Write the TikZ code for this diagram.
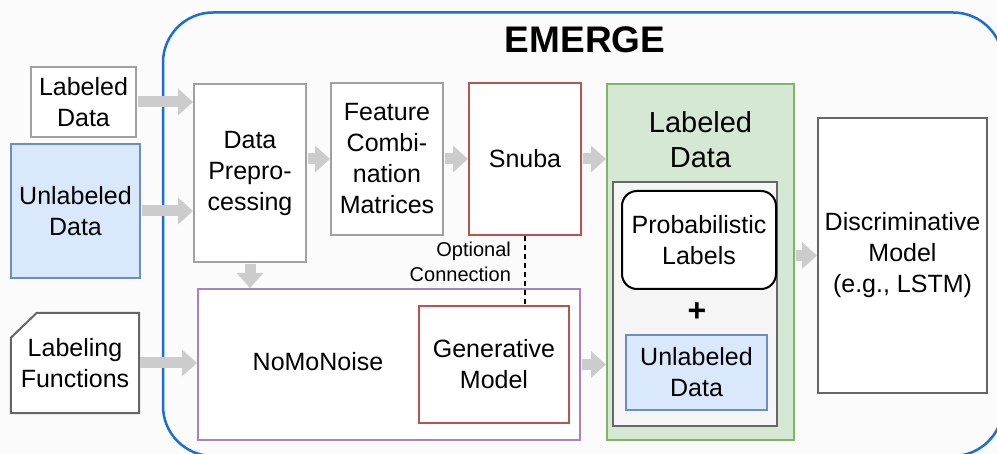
\documentclass[tikz,border=0pt]{standalone}
\usepackage{fontspec}
\setmainfont{Liberation Sans}
\usepackage{xcolor}
\usepackage{tikz}
\usetikzlibrary{arrows.meta, backgrounds}

\definecolor{bggray}{HTML}{FBFBFB}
\definecolor{emblue}{HTML}{1A6FD0}
\definecolor{litegray}{HTML}{A0A0A0}
\definecolor{darkgray}{HTML}{666666}
\definecolor{flowgray}{HTML}{CCCCCC}
\definecolor{redline}{HTML}{B85450}
\definecolor{purpline}{HTML}{A884BC}
\definecolor{greenfill}{HTML}{D5E8D4}
\definecolor{greenline}{HTML}{82B366}
\definecolor{bluefill}{HTML}{DAE8FC}
\definecolor{blueline}{HTML}{6C8EBF}
\definecolor{innerfill}{HTML}{F5F5F5}

\begin{document}
\begin{tikzpicture}[x=1pt, y=-1pt,
    every node/.style={font=\fontsize{25}{31}\selectfont, align=center},
    box/.style={draw=#1, fill=white, line width=2pt},
    flow/.style={draw=flowgray, line width=11pt, shorten <=1pt,
        -{Triangle[length=15pt,width=26pt]}}]
                  \begin{scope}[on background layer]
                  \fill[bggray] (0,0) rectangle (997,454);
                  \end{scope}
                  \useasboundingbox (0,0) rectangle (997,454);
                  \draw[emblue, line width=2.5pt, rounded corners=50pt] 
                  (163,12.5) rectangle (1003,456);
                  \node[font=\fontsize{37}{40}\selectfont\bfseries] (title) 
                  at (585,39.5) {EMERGE};
                  % inputs
                  \node[box=litegray, minimum width=105pt, minimum height=70pt] 
                  (ld) at (83.5,102) {Labeled\\Data};
                  \node[box=blueline, fill=bluefill, minimum width=129pt, 
                  minimum height=134pt] (ud) at (75.5,211) {Unlabeled\\Data};
                  \node[minimum width=128pt, minimum height=100pt] (lf) 
                  at (75,363) {Labeling\\Functions};
                  \begin{scope}[on background layer]
                  \draw[darkgray, fill=white, line width=2pt] (lf.south west) 
                  -- ([yshift=-25pt]lf.north west) -- ([xshift=26pt]lf.north west) 
                  -- (lf.north east) -- (lf.south east) -- cycle;
                  \end{scope}
                  % pipeline
                  \node[box=litegray, minimum width=112pt, minimum height=178pt] 
                  (dp) at (250,173) {Data\\Prepro-\\cessing};
                  \node[box=litegray, minimum width=112pt, minimum height=152pt] 
                  (fc) at (387,159) {Feature\\Combi-\\nation\\Matrices};
                  \node[box=redline, minimum width=112pt, minimum height=152pt] 
                  (sn) at (525,159) {Snuba};
                  \node[box=purpline, minimum width=382pt, minimum height=151pt] 
                  (nm) at (389,364.5) {};
                  \node (nmt) at (318,362) {NoMoNoise};
                  \node[box=redline, minimum width=150pt, minimum height=117pt] 
                  (gm) at (494,364.5) {Generative\\Model};
                  % labeled data output
                  \node[box=greenline, fill=greenfill, minimum width=187pt, 
                  minimum height=356pt] (lab) at (700.5,262) {};
                  \node[font=\fontsize{29}{35}\selectfont] (labt) at (700.5,139.5) 
                  {Labeled\\Data};
                  \node[box=darkgray, fill=innerfill, minimum width=164pt, 
                  minimum height=244pt] (inr) at (695,304) {};
                  \node[box=black, rounded corners=15pt, minimum width=154pt, 
                  minimum height=98pt] (pl) at (699,240) {Probabilistic\\Labels};
                  \node[font=\fontsize{32}{36}\selectfont\bfseries] (plus) 
                  at (697,312) {+};
                  \node[box=blueline, fill=bluefill, minimum width=141pt, 
                  minimum height=75pt] (iu) at (696.5,372.5) {Unlabeled\\Data};
                  \node[box=darkgray, minimum width=169pt, minimum height=275pt] 
                  (dm) at (902.5,255.5) {Discriminative\\Model\\(e.g., LSTM)};
                  % arrows
                  \draw[flow] (ld.east) -- (ld.east -| dp.west);
                  \draw[flow] (ud.east) -- (ud.east -| dp.west);
                  \draw[flow] (lf.east) -- (lf.east -| nm.west);
                  \draw[flow] (dp.south) -- (dp.south |- nm.north);
                  \draw[flow] (fc.west -| dp.east) -- (fc.west);
                  \draw[flow] (fc.east) -- (sn.west);
                  \draw[flow] (sn.east) -- (sn.east -| lab.west);
                  \draw[flow] (nm.east) -- (nm.east -| lab.west);
                  \draw[flow] (dm.west -| lab.east) -- (dm.west);
                  \draw[line width=1.5pt, dash pattern=on 5pt off 4pt] 
                  (sn.south) -- (sn.south |- gm.north) node[pos=0.38, left, 
                  xshift=-10pt, font=\fontsize{20}{25}\selectfont, align=right] 
                  {Optional\\Connection};
              \end{tikzpicture}
\end{document}
